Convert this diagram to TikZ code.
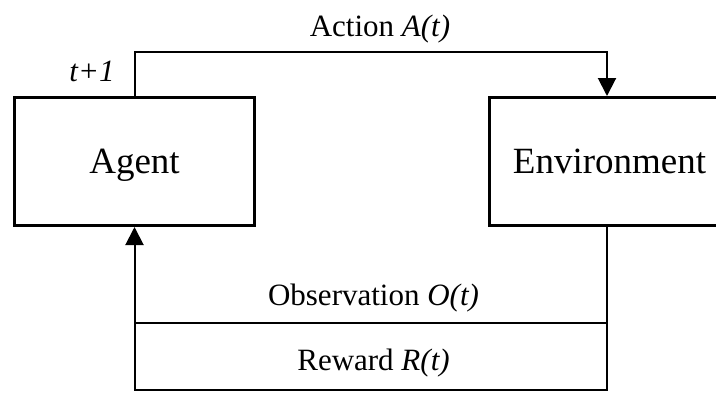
\documentclass[tikz,border=0pt]{standalone}
\usepackage{fontspec}
\setmainfont{Liberation Serif}
\usetikzlibrary{arrows.meta}
\begin{document}
\begin{tikzpicture}[x=1bp,y=-1bp,
  box/.style={draw, line width=3bp, rectangle, minimum width=240bp, minimum height=128bp, inner sep=0pt, text depth=0pt, font=\fontsize{37bp}{40bp}\selectfont},
  conn/.style={draw, line width=2bp},
  tip/.style={-{Triangle[length=18bp,width=18bp]}},
  lbl/.style={inner sep=0pt, font=\fontsize{31bp}{34bp}\selectfont}]
\useasboundingbox (0,0) rectangle (716,392);
\clip (0,0) rectangle (716,392);
\node[box] (agent) at (134.5,161.5) {Agent};
\node[box] (env) at (609.5,161.5) {Environment};
\coordinate (ex) at (607,0);
\coordinate (top) at (0,52);
\coordinate (obs) at (0,323);
\coordinate (bot) at (0,390);
\draw[conn,tip] (agent.north) -- (agent.north |- top) -| (env.north -| ex);
\draw[conn,tip] (env.south -| ex) |- (agent.south |- bot) -- (agent.south);
\draw[conn] (agent.south |- obs) -- (ex |- obs);
\node[lbl, anchor=base] (act) at (380,36) {Action \textit{A(t)}};
\node[lbl, anchor=base] (obsl) at (373.5,305) {Observation \textit{O(t)}};
\node[lbl, anchor=base] (rew) at (373.5,370) {Reward \textit{R(t)}};
\node[lbl, anchor=base] (t1) at (92,81) {\textit{t+1}};
\end{tikzpicture}
\end{document}
